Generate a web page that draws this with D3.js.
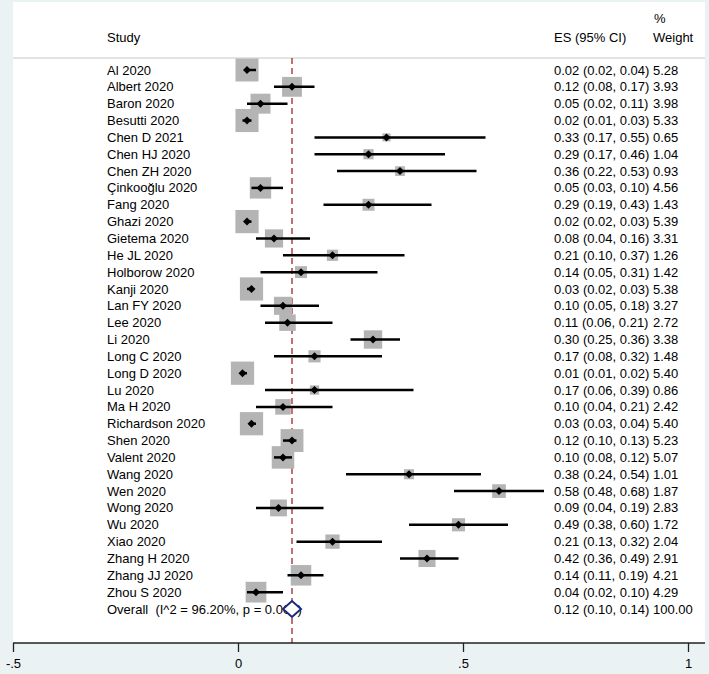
<!DOCTYPE html>
<html>
<head>
<meta charset="utf-8">
<script src="https://cdn.jsdelivr.net/npm/d3@7"></script>
<style>
  html, body { margin: 0; padding: 0; background: #eaf2f3; }
  svg { display: block; }
  text { font-family: "Liberation Sans", Arial, Helvetica, sans-serif; font-size: 13px; fill: #000; white-space: pre; }
</style>
</head>
<body>
<svg id="chart" width="709" height="674"></svg>
<script>
const studies = ["Al 2020","Albert 2020","Baron 2020","Besutti 2020","Chen D 2021","Chen HJ 2020","Chen ZH 2020","Çinkooğlu 2020","Fang 2020","Ghazi 2020","Gietema 2020","He JL 2020","Holborow 2020","Kanji 2020","Lan FY 2020","Lee 2020","Li 2020","Long C 2020","Long D 2020","Lu 2020","Ma H 2020","Richardson 2020","Shen 2020","Valent 2020","Wang 2020","Wen 2020","Wong 2020","Wu 2020","Xiao 2020","Zhang H 2020","Zhang JJ 2020","Zhou S 2020"];
const es    = [0.02,0.12,0.05,0.02,0.33,0.29,0.36,0.05,0.29,0.02,0.08,0.21,0.14,0.03,0.10,0.11,0.30,0.17,0.01,0.17,0.10,0.03,0.12,0.10,0.38,0.58,0.09,0.49,0.21,0.42,0.14,0.04];
const lower = [0.02,0.08,0.02,0.01,0.17,0.17,0.22,0.03,0.19,0.02,0.04,0.10,0.05,0.02,0.05,0.06,0.25,0.08,0.01,0.06,0.04,0.03,0.10,0.08,0.24,0.48,0.04,0.38,0.13,0.36,0.11,0.02];
const upper = [0.04,0.17,0.11,0.03,0.55,0.46,0.53,0.10,0.43,0.03,0.16,0.37,0.31,0.03,0.18,0.21,0.36,0.32,0.02,0.39,0.21,0.04,0.13,0.12,0.54,0.68,0.19,0.60,0.32,0.49,0.19,0.10];
const weight= [5.28,3.93,3.98,5.33,0.65,1.04,0.93,4.56,1.43,5.39,3.31,1.26,1.42,5.38,3.27,2.72,3.38,1.48,5.40,0.86,2.42,5.40,5.23,5.07,1.01,1.87,2.83,1.72,2.04,2.91,4.21,4.29];
const overallLabel = "Overall  (I^2 = 96.20%, p = 0.000)";
const overall = {es: 0.12, lower: 0.10, upper: 0.14, weight: 100.00};
const xTicks = [-0.5, 0, 0.5, 1];
const xTickLabels = ["-.5", "0", ".5", "1"];

const svg = d3.select("#chart");
const panel = {left: 13, right: 705, top: 2, bottom: 643};

svg.append("rect").attr("x", panel.left).attr("y", panel.top)
  .attr("width", panel.right - panel.left).attr("height", panel.bottom - panel.top)
  .attr("fill", "#fff");

const x = d3.scaleLinear().domain([-0.5, 1]).range([13, 688]);
const rows = studies.concat(["__overall"]);
const y = d3.scalePoint().domain(d3.range(rows.length)).range([70, 609]);
const fmt = d3.format(".2f");
const colStudy = 107, colES = 554, colW = 653;

// header
svg.append("text").attr("x", colStudy).attr("y", 42).text("Study");
svg.append("text").attr("x", colES).attr("y", 42).text("ES (95% CI)");
svg.append("text").attr("x", colW + 1).attr("y", 23).text("%");
svg.append("text").attr("x", colW).attr("y", 42).text("Weight");
svg.append("line").attr("x1", panel.left).attr("x2", panel.right).attr("y1", 58).attr("y2", 58)
  .attr("stroke", "#c8c8c8").attr("stroke-width", 1.2);

// labels
studies.forEach((s, i) => {
  svg.append("text").attr("x", colStudy).attr("y", y(i)).attr("dy", "0.35em").text(s);
  svg.append("text").attr("x", colES).attr("y", y(i)).attr("dy", "0.35em")
    .text(`${fmt(es[i])} (${fmt(lower[i])}, ${fmt(upper[i])})`);
  svg.append("text").attr("x", colW).attr("y", y(i)).attr("dy", "0.35em").text(fmt(weight[i]));
});
const oi = studies.length;
svg.append("text").attr("x", colStudy).attr("y", y(oi)).attr("dy", "0.35em").text(overallLabel);
svg.append("text").attr("x", colES).attr("y", y(oi)).attr("dy", "0.35em")
  .text(`${fmt(overall.es)} (${fmt(overall.lower)}, ${fmt(overall.upper)})`);
svg.append("text").attr("x", colW).attr("y", y(oi)).attr("dy", "0.35em").text(fmt(overall.weight));

// reference line
svg.append("line").attr("x1", x(overall.es)).attr("x2", x(overall.es))
  .attr("y1", 58).attr("y2", panel.bottom)
  .attr("stroke", "#a3262b").attr("stroke-width", 1.3).attr("stroke-dasharray", "6,4");

// boxes, CIs, points
const side = w => 10 * Math.sqrt(w);
const g = svg.append("g");
studies.forEach((s, i) => {
  const sd = side(weight[i]);
  g.append("rect").attr("x", x(es[i]) - sd / 2).attr("y", y(i) - sd / 2)
    .attr("width", sd).attr("height", sd).attr("fill", "#b4b4b4");
});
studies.forEach((s, i) => {
  g.append("line").attr("x1", x(lower[i])).attr("x2", x(upper[i]))
    .attr("y1", y(i)).attr("y2", y(i)).attr("stroke", "#000").attr("stroke-width", 2.5);
  const cx = x(es[i]), cy = y(i), r = 4;
  g.append("path").attr("d", `M${cx},${cy - r}L${cx + r},${cy}L${cx},${cy + r}L${cx - r},${cy}Z`).attr("fill", "#000");
});

// overall diamond
{
  const cy = y(oi), h = 8;
  svg.append("path")
    .attr("d", `M${x(overall.lower)},${cy}L${x(overall.es)},${cy - h}L${x(overall.upper)},${cy}L${x(overall.es)},${cy + h}Z`)
    .attr("fill", "#fff").attr("stroke", "#1c2a80").attr("stroke-width", 2);
}

// axis
const axis = d3.axisBottom(x).tickValues(xTicks).tickFormat((d, i) => xTickLabels[i]).tickSize(9).tickPadding(7);
const ax = svg.append("g").attr("transform", `translate(0,${panel.bottom})`).call(axis);
ax.select(".domain").attr("d", `M${panel.left},0H${panel.right}`).attr("stroke", "#222").attr("stroke-width", 1.3);
ax.selectAll(".tick line").attr("stroke", "#222").attr("stroke-width", 1.3);
ax.selectAll(".tick text").style("font-family", '"Liberation Sans", Arial, Helvetica, sans-serif').style("font-size", "13px").attr("fill", "#000");
</script>
</body>
</html>
